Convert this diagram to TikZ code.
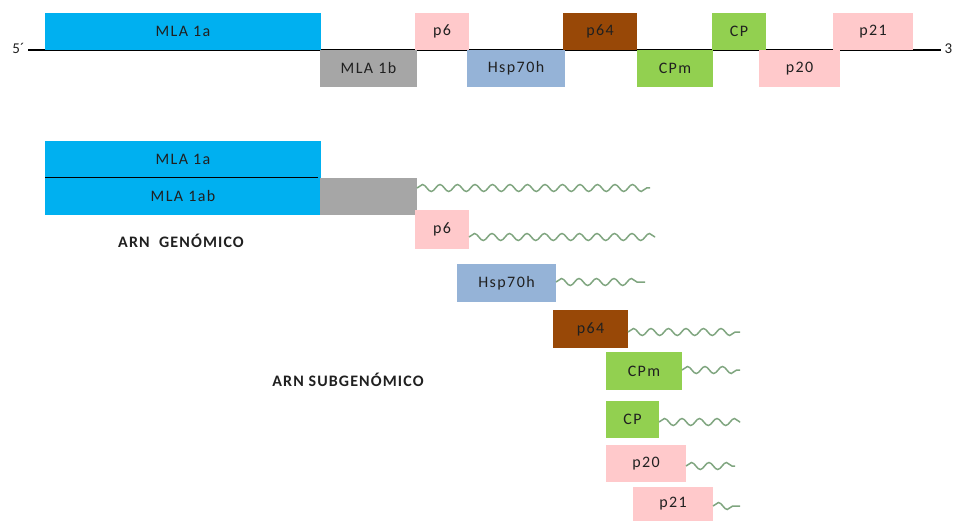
\documentclass[tikz,border=0pt]{standalone}
\usepackage{fontspec}
\setmainfont{Carlito}
\newfontfamily\genefont[LetterSpace=9]{Carlito}
\newfontfamily\tagfont[LetterSpace=7]{Carlito}
\usetikzlibrary{decorations.pathmorphing}
\definecolor{mlablue}{HTML}{00B0F0}
\definecolor{mgrey}{HTML}{A6A6A6}
\definecolor{mpink}{HTML}{FFC9CB}
\definecolor{hspblue}{HTML}{95B3D7}
\definecolor{pbrown}{HTML}{984807}
\definecolor{cpgreen}{HTML}{92D050}
\definecolor{wavegreen}{HTML}{7FA57F}
\definecolor{txt}{HTML}{202020}
\begin{document}
\begin{tikzpicture}[x=1pt,y=-1pt,
  gene/.style={rectangle, inner sep=0pt, outer sep=0pt, anchor=north west,
    text=txt, font=\genefont\fontsize{16}{18}\selectfont},
  wave/.style={draw=wavegreen, line width=1.5pt,
    decorate, decoration={snake, segment length=17.5pt, amplitude=3.5pt,
      pre length=0pt, post length=0pt}},
  lbl/.style={text=txt, font=\tagfont\bfseries\fontsize{16}{18}\selectfont},
  endlbl/.style={text=txt, font=\fontsize{15}{17}\selectfont}]
\useasboundingbox (0,0) rectangle (955,521);

% genomic map
\node[endlbl, anchor=east] (five) at (28,48) {5´};
\node[endlbl, anchor=west] (three) at (941,49) {3};
\draw[line width=1.2pt] (five.east |- 0,50) -- (three.west |- 0,50);
\node[gene, fill=mlablue, minimum width=276pt, minimum height=37pt] (a1) at (45,13) {MLA 1a};
\node[gene, fill=mgrey, minimum width=97pt, minimum height=37pt] (b1) at (320,50) {MLA 1b};
\node[gene, fill=mpink, minimum width=54pt, minimum height=37pt] (p6t) at (415,13) {p6};
\node[gene, fill=hspblue, minimum width=98pt, minimum height=37pt] (hspt) at (467,50) {Hsp70h};
\node[gene, fill=pbrown, minimum width=74pt, minimum height=37pt] (p64t) at (563,13) {p64};
\node[gene, fill=cpgreen, minimum width=76pt, minimum height=37pt] (cpmt) at (637,50) {CPm};
\node[gene, fill=cpgreen, minimum width=54pt, minimum height=37pt] (cpt) at (712,13) {CP};
\node[gene, fill=mpink, minimum width=81pt, minimum height=37pt] (p20t) at (759,50) {p20};
\node[gene, fill=mpink, minimum width=80pt, minimum height=37pt] (p21t) at (833,13) {p21};

% genomic RNA
\node[gene, fill=mlablue, minimum width=276pt, minimum height=37pt] (ga) at (45,141) {MLA 1a};
\node[gene, fill=mlablue, minimum width=276pt, minimum height=37pt] (gab) at (45,178) {MLA 1ab};
\node[gene, fill=mgrey, minimum width=97pt, minimum height=37pt] (gb) at (320,178) {};
\draw[line width=1pt] (gab.north west) -- ([xshift=-3pt]gab.north east);
\coordinate (wg) at (650,188);
\draw[wave] (gb.east |- wg) -- (wg);
\node[lbl] (gtext) at (181,241) {ARN\ \ GENÓMICO};

% subgenomic RNAs
\node[gene, fill=mpink, minimum width=54pt, minimum height=39pt] (s6) at (415,210) {p6};
\coordinate (w6) at (655,237);
\draw[wave] (s6.east |- w6) -- (w6);

\node[gene, fill=hspblue, minimum width=99pt, minimum height=38pt] (shsp) at (457,264) {Hsp70h};
\coordinate (whsp) at (645,282);
\draw[wave] (shsp.east |- whsp) -- (whsp);

\node[gene, fill=pbrown, minimum width=75pt, minimum height=38pt] (s64) at (553,310) {p64};
\coordinate (w64) at (740,332);
\draw[wave] (s64.east |- w64) -- (w64);

\node[gene, fill=cpgreen, minimum width=76pt, minimum height=38pt] (scpm) at (606,352) {CPm};
\coordinate (wcpm) at (740,370);
\draw[wave] (scpm.east |- wcpm) -- (wcpm);

\node[gene, fill=cpgreen, minimum width=53pt, minimum height=37pt] (scp) at (606,401) {CP};
\coordinate (wcp) at (740,422);
\draw[wave] (scp.east |- wcp) -- (wcp);

\node[gene, fill=mpink, minimum width=80pt, minimum height=37pt] (s20) at (606,445) {p20};
\coordinate (w20) at (735,466);
\draw[wave] (s20.east |- w20) -- (w20);

\node[gene, fill=mpink, minimum width=80pt, minimum height=34pt] (s21) at (633,487) {p21};
\coordinate (w21) at (740,506);
\draw[wave] (s21.east |- w21) -- (w21);

\node[lbl] (sgtext) at (348,380) {ARN SUBGENÓMICO};
\end{tikzpicture}
\end{document}
